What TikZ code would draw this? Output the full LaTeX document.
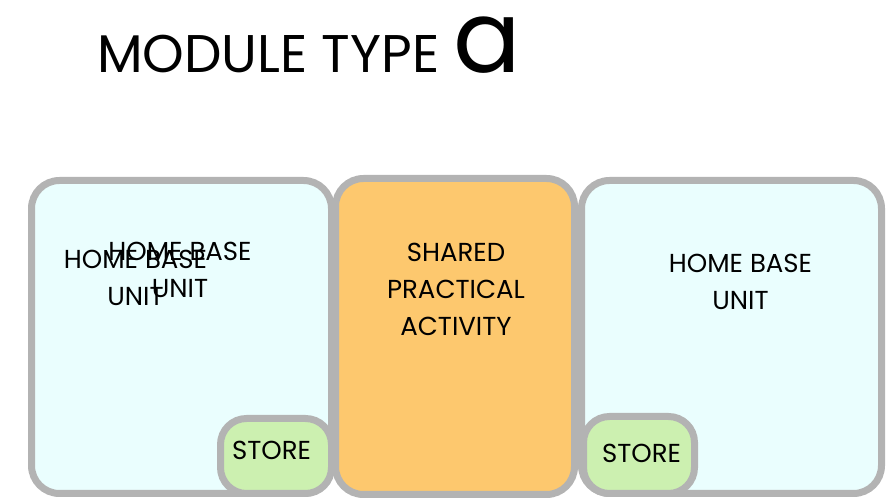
\documentclass[tikz,border=0pt]{standalone}
\usepackage{fontspec}
\setmainfont{Poppins}
\definecolor{bordergray}{RGB}{179,179,179}
\definecolor{homefill}{RGB}{234,254,254}
\definecolor{sharedfill}{RGB}{253,200,110}
\definecolor{storefill}{RGB}{204,240,176}
\begin{document}
\begin{tikzpicture}[x=1pt,y=1pt,
  box/.style={draw=bordergray, line width=7pt, rounded corners=28pt, inner sep=0pt},
  storebox/.style={draw=bordergray, line width=7pt, rounded corners=26pt, inner sep=0pt, fill=storefill},
  lbl/.style={font=\fontsize{26}{37}\selectfont, align=center, inner sep=0pt, anchor=base},
  storelbl/.style={font=\fontsize{26}{30}\selectfont, inner sep=0pt, anchor=base}]
\useasboundingbox (0,0) rectangle (886,500);
% boxes
\node[box, fill=homefill, minimum width=300pt, minimum height=313pt] (homeL) at (181.5,163) {};
\node[storebox, minimum width=111pt, minimum height=75pt] (storeL) at (276,44) {};
\node[box, fill=sharedfill, minimum width=239pt, minimum height=316pt] (shared) at (455,163.5) {};
\node[box, fill=homefill, minimum width=300pt, minimum height=313pt] (homeR) at (731.5,163) {};
\node[storebox, minimum width=111pt, minimum height=77pt] (storeR) at (639,45) {};
% labels (base anchor = last line)
\node[lbl] (tL1) at (135.5,194) {HOME BASE\\UNIT};
\node[lbl] (tL2) at (180,202) {HOME BASE\\UNIT};
\node[lbl] (tS) at (456,164) {SHARED\\PRACTICAL\\ACTIVITY};
\node[lbl] (tR) at (740.5,190) {HOME BASE\\UNIT};
\node[storelbl] (sL) at (271.5,40) {STORE};
\node[storelbl] (sR) at (641.5,37) {STORE};
% title
\node[inner sep=0pt, anchor=base west] (title) at (97,427) {\fontsize{53}{60}\selectfont MODULE TYPE \fontsize{100}{110}\selectfont a};
\end{tikzpicture}
\end{document}
